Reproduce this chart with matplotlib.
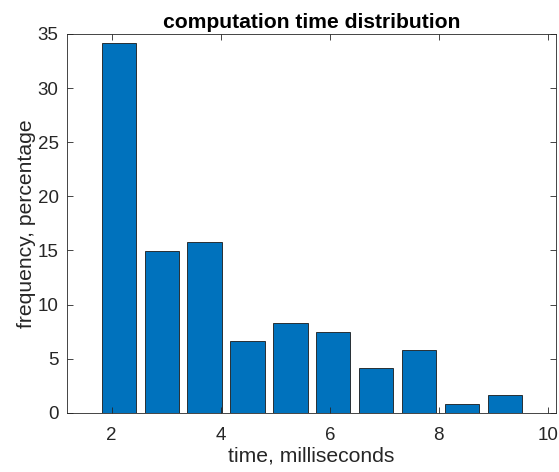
import numpy as np
import matplotlib
matplotlib.use('Agg')
import matplotlib.pyplot as plt

plt.rcParams['font.family'] = ['Liberation Sans', 'DejaVu Sans']

# bin centers (ms) and frequency (%)
centers = [2.13, 2.92, 3.70, 4.49, 5.28, 6.06, 6.85, 7.64, 8.42, 9.21]
freq = [34.14, 14.92, 15.75, 6.6, 8.26, 7.43, 4.1, 5.77, 0.78, 1.61]

fig = plt.figure(figsize=(5.59, 4.72), dpi=100)
ax = fig.add_axes([0.1199, 0.1256, 0.8747, 0.8024])

ax.bar(centers, freq, width=0.63, color='#0072BD', edgecolor='#1a1a1a', linewidth=0.6)

ax.set_xlim(1.18, 10.15)
ax.set_ylim(0, 35)
ax.set_xticks([2, 4, 6, 8, 10])
ax.set_yticks([0, 5, 10, 15, 20, 25, 30, 35])

txt = '#262626'
for s in ax.spines.values():
    s.set_color(txt)
    s.set_linewidth(0.6)
ax.tick_params(direction='in', length=4, width=0.6, colors=txt, labelsize=13.5,
               top=True, right=True, labelcolor=txt)
ax.tick_params(axis='x', pad=10)
ax.tick_params(axis='y', pad=6)

ax.set_xlabel('time, milliseconds', fontsize=15.2, color=txt, labelpad=2)
ax.set_ylabel('frequency, percentage', fontsize=15.2, color=txt, labelpad=1)
ax.set_title('computation time distribution', fontsize=15.2, fontweight='bold', color='black', pad=4)

fig.savefig('out.png', dpi=100)
